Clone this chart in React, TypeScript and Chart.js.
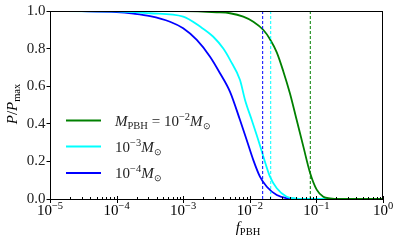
import React, { useEffect, useRef } from "react";
import { Chart, registerables } from "chart.js";

Chart.register(...registerables);

// ---- data ----
const greenF = [1e-5, 1e-3, 3.18e-3, 5.05e-3, 7.98e-3, 1.13e-2, 1.6e-2, 2.01e-2, 2.54e-2, 3.18e-2, 4.02e-2, 5.06e-2, 6.36e-2, 8.02e-2, 0.101, 0.127, 0.16, 0.226, 1];
const greenP = [1.0, 0.999, 0.993, 0.988, 0.97, 0.943, 0.899, 0.85, 0.78, 0.68, 0.56, 0.42, 0.28, 0.14, 0.05, 0.012, 0.003, 0, 0];

const cyanF = [1e-5, 1e-4, 3.18e-4, 1.0e-3, 1.79e-3, 2.83e-3, 4.0e-3, 5.05e-3, 7.13e-3, 8.48e-3, 1.07e-2, 1.34e-2, 1.6e-2, 2.01e-2, 2.54e-2, 3.58e-2, 5.06e-2, 8.0e-2, 1];
const cyanP = [1.0, 0.998, 0.988, 0.97, 0.917, 0.863, 0.8, 0.74, 0.633, 0.527, 0.42, 0.314, 0.225, 0.119, 0.057, 0.012, 0.002, 0, 0];

const blueF = [1e-5, 3e-5, 1e-4, 1.78e-4, 3.18e-4, 6.34e-4, 1.0e-3, 1.6e-3, 2.53e-3, 3.57e-3, 5.05e-3, 7.13e-3, 8.98e-3, 1.13e-2, 1.42e-2, 1.8e-2, 2.54e-2, 3.58e-2, 5.7e-2, 1];
const blueP = [1.0, 0.999, 0.994, 0.986, 0.973, 0.943, 0.908, 0.846, 0.757, 0.669, 0.57, 0.42, 0.314, 0.207, 0.119, 0.065, 0.021, 0.004, 0, 0];

const thresholdGreen = 0.081;
const thresholdCyan = 0.0206;
const thresholdBlue = 0.0156;

const xTickExponents = [-5, -4, -3, -2, -1, 0];
const yTickValues = [0, 0.2, 0.4, 0.6, 0.8, 1.0];

const legendExponents = ["\u22122", "\u22123", "\u22124"];

const GREEN = "#008000";
const CYAN = "#00ffff";
const BLUE = "#0000ff";
const FONT = "'Liberation Serif', 'Times New Roman', serif";

type Part = { t: string; italic?: boolean; size: number; dy?: number };

function partsWidth(ctx: CanvasRenderingContext2D, parts: Part[]) {
  let w = 0;
  for (const p of parts) {
    ctx.font = `${p.italic ? "italic " : ""}${p.size}px ${FONT}`;
    w += ctx.measureText(p.t).width;
  }
  return w;
}

function drawParts(ctx: CanvasRenderingContext2D, parts: Part[], x: number, y: number, align: "left" | "center") {
  let cx = x;
  if (align === "center") cx = x - partsWidth(ctx, parts) / 2;
  ctx.textAlign = "left";
  ctx.textBaseline = "alphabetic";
  for (const p of parts) {
    ctx.font = `${p.italic ? "italic " : ""}${p.size}px ${FONT}`;
    ctx.fillText(p.t, cx, y + (p.dy || 0));
    cx += ctx.measureText(p.t).width;
  }
}

const decorPlugin = {
  id: "decor",
  afterDraw(chart: any) {
    const ctx: CanvasRenderingContext2D = chart.ctx;
    const area = chart.chartArea;
    const xs = chart.scales.x;
    ctx.save();
    ctx.fillStyle = "#000";
    ctx.strokeStyle = "#000";
    ctx.lineWidth = 1;

    // frame
    ctx.strokeRect(Math.round(area.left) + 0.5, Math.round(area.top) + 0.5, Math.round(area.right - area.left) - 1, Math.round(area.bottom - area.top));

    // x ticks (major + minor)
    const by = Math.round(area.bottom) + 0.5;
    ctx.beginPath();
    for (const e of xTickExponents) {
      const px = Math.round(xs.getPixelForValue(Math.pow(10, e))) + 0.5;
      ctx.moveTo(px, by - 3.5);
      ctx.lineTo(px, by + 3.5);
      if (e < 0) {
        for (let k = 2; k <= 9; k++) {
          const mx = Math.round(xs.getPixelForValue(k * Math.pow(10, e))) + 0.5;
          ctx.moveTo(mx, by - 2.5);
          ctx.lineTo(mx, by);
        }
      }
    }
    ctx.stroke();

    // x tick labels
    for (const e of xTickExponents) {
      const px = xs.getPixelForValue(Math.pow(10, e));
      const sup = e < 0 ? "\u2212" + Math.abs(e) : String(e);
      drawParts(ctx, [
        { t: "10", size: 15 },
        { t: sup, size: 10.5, dy: -6 },
      ], px, 215, "center");
    }

    // x axis title
    drawParts(ctx, [
      { t: "f", italic: true, size: 15 },
      { t: "PBH", size: 10.5, dy: 3 },
    ], 248, 232, "center");

    // y axis title
    ctx.save();
    ctx.translate(17, 104);
    ctx.rotate(-Math.PI / 2);
    drawParts(ctx, [
      { t: "P", italic: true, size: 15 },
      { t: "/", size: 15 },
      { t: "P", italic: true, size: 15 },
      { t: "max", size: 10.5, dy: 3 },
    ], 0, 0, "center");
    ctx.restore();

    // legend
    const legendColors = [GREEN, CYAN, BLUE];
    const legendY = [120.5, 146.5, 173];
    for (let i = 0; i < 3; i++) {
      ctx.strokeStyle = legendColors[i];
      ctx.lineWidth = 1.8;
      ctx.beginPath();
      ctx.moveTo(66, legendY[i]);
      ctx.lineTo(101, legendY[i]);
      ctx.stroke();
      ctx.fillStyle = "#222";
      const parts: Part[] = [];
      if (i === 0) {
        parts.push({ t: "M", italic: true, size: 15 });
        parts.push({ t: "PBH", size: 10.5, dy: 3 });
        parts.push({ t: " = ", size: 15 });
      }
      parts.push({ t: "10", size: 15 });
      parts.push({ t: legendExponents[i], size: 10.5, dy: -6 });
      parts.push({ t: "M", italic: true, size: 15 });
      parts.push({ t: "\u2299", size: 9, dy: 3 });
      drawParts(ctx, parts, 115, legendY[i] + 5, "left");
    }
    ctx.restore();
  },
};

function vline(x: number, color: string) {
  return {
    data: [{ x, y: 0 }, { x, y: 1 }],
    borderColor: color,
    borderWidth: 1,
    borderDash: [3, 2],
    pointRadius: 0,
    fill: false,
  };
}

function curve(fs: number[], ps: number[], color: string) {
  return {
    data: fs.map((f, i) => ({ x: f, y: ps[i] })),
    borderColor: color,
    borderWidth: 1.8,
    pointRadius: 0,
    fill: false,
    cubicInterpolationMode: "monotone" as const,
  };
}

export default function App() {
  const ref = useRef<HTMLCanvasElement>(null);
  useEffect(() => {
    document.body.style.margin = "0";
    const chart = new Chart(ref.current as HTMLCanvasElement, {
      type: "line",
      data: {
        datasets: [
          vline(thresholdBlue, BLUE) as any,
          vline(thresholdCyan, CYAN) as any,
          vline(thresholdGreen, GREEN) as any,
          curve(greenF, greenP, GREEN) as any,
          curve(cyanF, cyanP, CYAN) as any,
          curve(blueF, blueP, BLUE) as any,
        ],
      },
      options: {
        animation: false,
        responsive: false,
        devicePixelRatio: 1,
        layout: { padding: { top: 11, right: 16, left: 0, bottom: 0 } },
        plugins: { legend: { display: false }, tooltip: { enabled: false } },
        events: [],
        scales: {
          x: {
            type: "logarithmic",
            min: 1e-5,
            max: 1,
            grid: { display: false },
            border: { display: false },
            ticks: { display: false },
            afterFit: (s: any) => {
              s.height = 46;
            },
          },
          y: {
            type: "linear",
            min: 0,
            max: 1,
            afterBuildTicks: (s: any) => {
              s.ticks = yTickValues.map((v) => ({ value: v }));
            },
            ticks: {
              callback: (v: any) => Number(v).toFixed(1),
              color: "#222",
              font: { family: FONT, size: 15 },
              padding: 1,
            },
            grid: {
              drawOnChartArea: false,
              drawTicks: true,
              tickLength: 3.5,
              color: "#000",
            },
            border: { display: false },
            afterFit: (s: any) => {
              s.width = 50;
            },
          },
        },
      } as any,
      plugins: [decorPlugin],
    });
    return () => chart.destroy();
  }, []);
  return (
    <div style={{ position: "absolute", left: 0, top: 0, width: 399, height: 245 }}>
      <canvas ref={ref} width={399} height={245} />
    </div>
  );
}
